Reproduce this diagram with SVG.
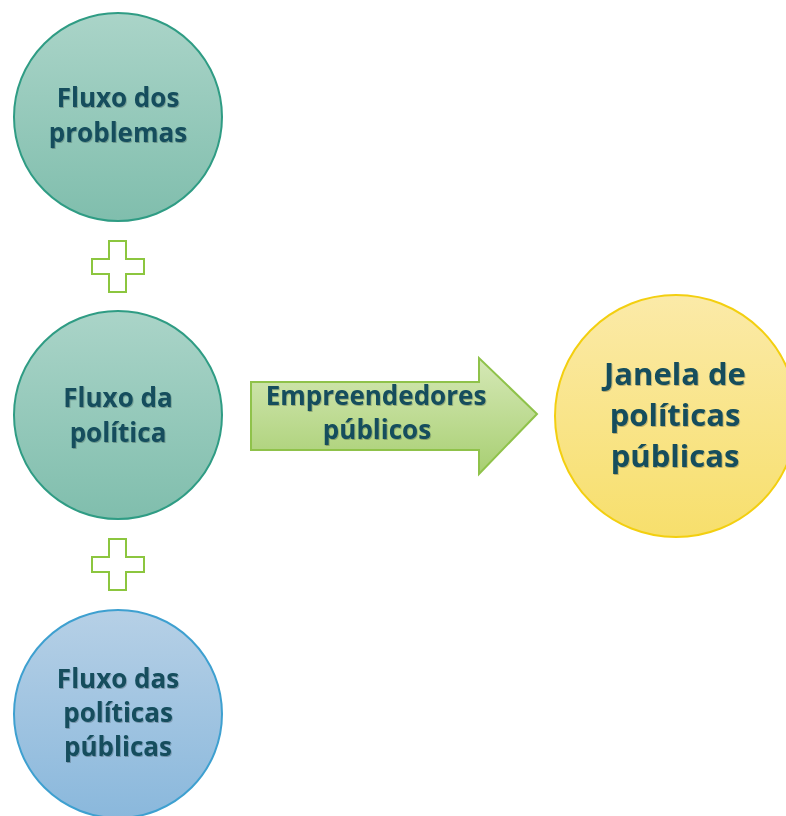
<svg xmlns="http://www.w3.org/2000/svg" width="786" height="816" viewBox="0 0 786 816">
<defs>
<linearGradient id="gTeal" x1="0" y1="0" x2="0" y2="1">
<stop offset="0" stop-color="#aad4c8"/><stop offset="1" stop-color="#80bead"/>
</linearGradient>
<linearGradient id="gBlue" x1="0" y1="0" x2="0" y2="1">
<stop offset="0" stop-color="#b6d0e6"/><stop offset="1" stop-color="#8ab8dc"/>
</linearGradient>
<linearGradient id="gYellow" x1="0" y1="0" x2="0" y2="1">
<stop offset="0" stop-color="#fbeaa8"/><stop offset="1" stop-color="#f7df6c"/>
</linearGradient>
<linearGradient id="gGreen" x1="0" y1="0" x2="0" y2="1">
<stop offset="0" stop-color="#d5e8b6"/><stop offset="1" stop-color="#a8cf72"/>
</linearGradient>
<filter id="sh" x="-10%" y="-10%" width="120%" height="130%">
<feDropShadow dx="0.8" dy="1" stdDeviation="0.6" flood-color="#000" flood-opacity="0.25"/>
</filter>
</defs>
<style>
.t{font-family:"Open Sans","Liberation Sans",sans-serif;font-weight:bold;fill:#134d5d;text-anchor:middle;filter:url(#sh)}
.s{font-size:26px}
.l{font-size:31px}
.teal{fill:url(#gTeal);stroke:#2f9c84;stroke-width:2}
.blue{fill:url(#gBlue);stroke:#3ea0d0;stroke-width:2}
.yel{fill:url(#gYellow);stroke:#f3cf10;stroke-width:2}
.plus{fill:#fff;stroke:#8cc63f;stroke-width:2}
.arr{fill:url(#gGreen);stroke:#8fc24a;stroke-width:2}
</style>
<rect width="786" height="816" fill="#fff"/>
<g id="problemas">
<circle class="teal" cx="118" cy="117" r="104"/>
<text class="t s" x="118" y="107">Fluxo dos</text>
<text class="t s" x="118" y="142">problemas</text>
</g>
<g id="politica">
<circle class="teal" cx="118" cy="415" r="104"/>
<text class="t s" x="118" y="407">Fluxo da</text>
<text class="t s" x="118" y="442">política</text>
</g>
<g id="politicas-publicas">
<circle class="blue" cx="118" cy="714" r="104"/>
<text class="t s" x="118" y="688">Fluxo das</text>
<text class="t s" x="118" y="722">políticas</text>
<text class="t s" x="118" y="756">públicas</text>
</g>
<g id="janela">
<circle class="yel" cx="676" cy="416" r="121"/>
<text class="t l" x="675" y="385">Janela de</text>
<text class="t l" x="675" y="426">políticas</text>
<text class="t l" x="675" y="467">públicas</text>
</g>
<g id="connectors">
<path class="plus" d="M109 241H126V259H144V274H126V292H109V274H92V259H109Z"/>
<path class="plus" d="M109 539H126V557H144V572H126V590H109V572H92V557H109Z"/>
<g id="empreendedores">
<path class="arr" d="M251 382H479V358L537 414L479 474V450H251Z"/>
<text class="t s" x="376" y="405">Empreendedores</text>
<text class="t s" x="377" y="439">públicos</text>
</g>
</g>
</svg>
